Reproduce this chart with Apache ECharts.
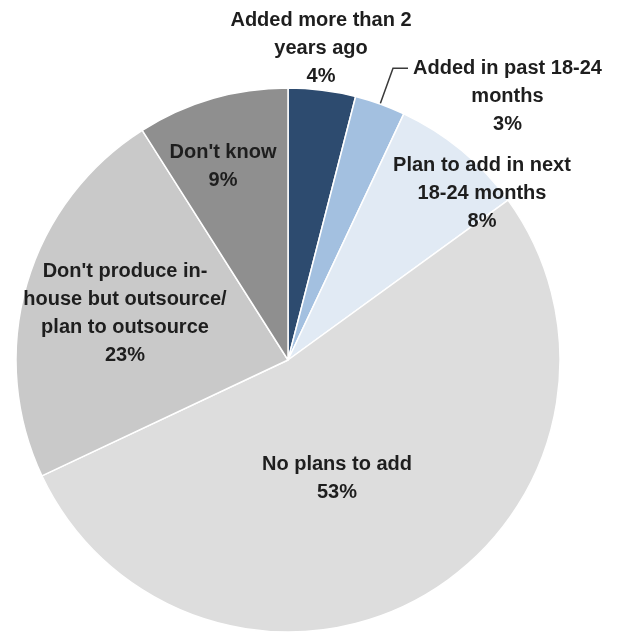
<!DOCTYPE html>
<html>
<head>
<meta charset="utf-8">
<style>
  html, body { margin: 0; padding: 0; background: #ffffff; }
  #chart { width: 623px; height: 633px; }
</style>
<script src="https://cdn.jsdelivr.net/npm/echarts@6/dist/echarts.min.js"></script>
</head>
<body>
<div id="chart"></div>
<script>
// Survey responses, clockwise from 12 o'clock
const categories = [
  'Added more than 2\nyears ago',
  'Added in past 18-24\nmonths',
  'Plan to add in next\n18-24 months',
  'No plans to add',
  "Don't produce in-\nhouse but outsource/\nplan to outsource",
  "Don't know"
];
const shares = [4, 3, 8, 53, 23, 9];
const sliceColors = ['#2d4b6f', '#a3c0e0', '#e1eaf4', '#dddddd', '#c9c9c9', '#8f8f8f'];

// Pie geometry
const pieCenter = [288, 360];
const pieRadius = 272;

// Label anchor offsets from the pie centre (null = library's outside label with leader line)
const labelOffsets = [
  [33, -312],
  null,
  [194, -167],
  [49, 118],
  [-163, -47],
  [-65, -194]
];

const FONT = '"Liberation Sans", Arial, sans-serif';

const data = categories.map((name, i) => {
  const item = {
    name: name,
    value: shares[i],
    itemStyle: { color: sliceColors[i] }
  };
  if (labelOffsets[i] === null) {
    item.label = {
      position: 'outside',
      padding: [56, 0, 0, 0],
      formatter: (p) => {
        const lines = (p.name + '\n' + p.value + '%').split('\n');
        return lines.map(l => '{c|' + l + '}').join('\n');
      },
      rich: {
        c: {
          align: 'center',
          fontFamily: FONT,
          fontSize: 20,
          fontWeight: 'bold',
          color: '#1e1e1e',
          lineHeight: 28
        }
      }
    };
    item.labelLine = {
      show: true,
      length: 38,
      length2: 15,
      lineStyle: { color: '#3a3a3a', width: 1.5 }
    };
  }
  return item;
});

const chart = echarts.init(document.getElementById('chart'), null, { renderer: 'canvas' });

chart.setOption({
  animation: false,
  backgroundColor: '#ffffff',
  series: [{
    type: 'pie',
    center: pieCenter,
    radius: pieRadius,
    startAngle: 90,
    clockwise: true,
    avoidLabelOverlap: false,
    itemStyle: { borderColor: '#ffffff', borderWidth: 1.5 },
    label: {
      show: true,
      position: 'inside',
      fontFamily: FONT,
      fontSize: 20,
      fontWeight: 'bold',
      color: '#1e1e1e',
      lineHeight: 28,
      overflow: 'none',
      formatter: '{b}\n{c}%'
    },
    labelLine: { show: false },
    emphasis: { disabled: true },
    labelLayout: (params) => {
      const o = labelOffsets[params.dataIndex];
      if (!o) return {};
      return {
        x: pieCenter[0] + o[0],
        y: pieCenter[1] + o[1],
        align: 'center',
        verticalAlign: 'middle'
      };
    },
    data: data
  }]
});
</script>
</body>
</html>
